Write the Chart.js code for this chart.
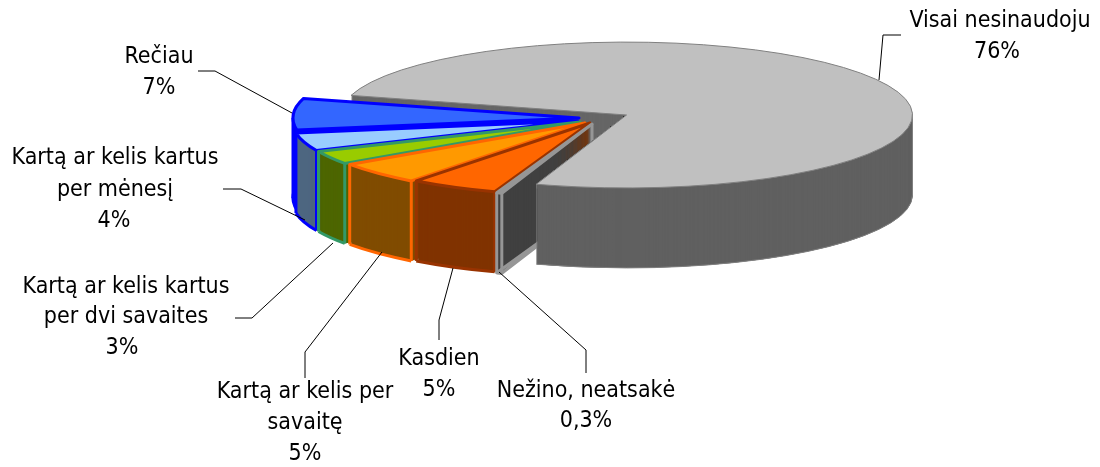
<!DOCTYPE html>
<html lang="lt">
<head>
<meta charset="utf-8">
<title>Pie</title>
<script src="https://cdn.jsdelivr.net/npm/chart.js@4"></script>
<style>
    html, body { margin: 0; padding: 0; background: #fff; }
    canvas { display: block; }
</style>
</head>
<body>
<canvas id="pieChart" width="1100" height="467"></canvas>
<script>
// Data
const categories = ['Visai nesinaudoju', 'Nežino, neatsakė', 'Kasdien', 'Kartą ar kelis per savaitę', 'Kartą ar kelis kartus per dvi savaites', 'Kartą ar kelis kartus per mėnesį', 'Rečiau'];
const values = [76, 0.3, 5, 5, 3, 4, 7];
const percentLabels = ['76%', '0,3%', '5%', '5%', '3%', '4%', '7%'];
const labelLines = [
    ['Visai nesinaudoju'],
    ['Nežino, neatsakė'],
    ['Kasdien'],
    ['Kartą ar kelis per', 'savaitę'],
    ['Kartą ar kelis kartus', 'per dvi savaites'],
    ['Kartą ar kelis kartus', 'per mėnesį'],
    ['Rečiau']
];

// Colours
const topColors = ['#c0c0c0', '#969696', '#ff6600', '#ff9900', '#99cc00', '#99ccff', '#3366ff'];
const borderColors = ['#808080', '#969696', '#993300', '#ff6600', '#339966', '#0000ff', '#0000ff'];
const sideColors = ['#606060', '#404040', '#803300', '#804c00', '#4d6600', '#4d6680', '#0000f0'];
const borderWidths = [1, 3, 3, 3, 3, 3, 3];

// Where each wedge tip sits on the page (exploded slices)
const sliceTips = [[626.5, 115], [592, 124], [590, 123], [585, 123], [580, 122], [578, 121], [579, 118]];
const squash = 0.255;
const depth = 80;
const radius = 286;
const NEZINO = 1;

// Label anchors: x centre, y of each line, leader line
const labelBoxes = [
    { x: [1000, 997], y: [21, 52], leader: [[879, 80], [883, 35], [901, 35]] },
    { x: [586, 586], y: [391, 421], leader: [[499, 272], [586, 350], [586, 373]] },
    { x: [439, 439], y: [359, 390], leader: [[453, 268], [439, 320], [439, 340]] },
    { x: [305, 305, 305], y: [392, 423, 454], leader: [[382, 252], [305, 352], [305, 378]] },
    { x: [126, 126, 122], y: [287, 317, 348], leader: [[333, 243], [252, 318], [235, 318]] },
    { x: [115, 115, 114], y: [158, 190, 221], leader: [[305, 220], [241, 189], [223, 189]] },
    { x: [159, 159], y: [57, 88], leader: [[292, 113], [215, 71], [198, 71]] }
];

// Draw one arc through the library with a flattened context
function drawArcAt(ctx, el, i, dy, fill) {
    const saved = el.options;
    el.options = Object.assign({}, saved, { backgroundColor: fill, borderWidth: 0 });
    ctx.save();
    ctx.translate(sliceTips[i][0], sliceTips[i][1] + dy);
    ctx.scale(1, squash);
    ctx.translate(-el.x, -el.y);
    el.draw(ctx);
    ctx.restore();
    el.options = saved;
}

function extrude(ctx, el, i) {
    for (let d = depth; d >= 1; d--) {
        drawArcAt(ctx, el, i, d, sideColors[i]);
    }
}

// Outline of a wedge, stroked in page pixels so the width stays even
function wedgePath(ctx, el, i, dy) {
    const [cx, cy] = sliceTips[i];
    const r = el.outerRadius;
    ctx.beginPath();
    ctx.moveTo(cx, cy + dy);
    ctx.ellipse(cx, cy + dy, r, r * squash, 0, el.startAngle, el.endAngle);
    ctx.closePath();
}

function setPen(ctx, i) {
    ctx.strokeStyle = borderColors[i];
    ctx.lineWidth = borderWidths[i];
    ctx.lineJoin = 'round';
}

function strokeSide(ctx, el, i) {
    const [cx, cy] = sliceTips[i];
    const r = el.outerRadius;
    setPen(ctx, i);
    // only the front half of the lower rim can be seen
    const full = 2 * Math.PI;
    const from = (el.startAngle < full && el.endAngle > full) ? full : el.startAngle;
    ctx.beginPath();
    ctx.ellipse(cx, cy + depth, r, r * squash, 0, from, el.endAngle);
    ctx.stroke();
    const edges = [el.startAngle, el.endAngle];
    [0, Math.PI, 2 * Math.PI, 3 * Math.PI].forEach(a => {
        if (a > el.startAngle && a < el.endAngle) edges.push(a);
    });
    edges.forEach(a => {
        const x = cx + Math.cos(a) * r;
        const y = cy + Math.sin(a) * r * squash;
        ctx.beginPath();
        ctx.moveTo(x, y);
        ctx.lineTo(x, y + depth);
        ctx.stroke();
    });
}

function drawTop(ctx, el, i) {
    drawArcAt(ctx, el, i, 0, topColors[i]);
    setPen(ctx, i);
    wedgePath(ctx, el, i, 0);
    ctx.stroke();
}

const pie3d = {
    id: 'pie3d',
    beforeDatasetsDraw(chart) {
        const ctx = chart.ctx;
        const arcs = chart.getDatasetMeta(0).data;
        const gray = arcs[0];

        // Inner wall of the big slice goes behind everything
        ctx.save();
        sideColors[0] = '#666666';
        extrude(ctx, gray, 0);
        sideColors[0] = '#606060';
        ctx.restore();

        // Small slices, back to front
        for (let i = arcs.length - 1; i >= 1; i--) {
            extrude(ctx, arcs[i], i);
            if (i === NEZINO) {
                setPen(ctx, i);
                wedgePath(ctx, arcs[i], i, depth);
                ctx.stroke();
                ctx.beginPath();
                ctx.moveTo(sliceTips[i][0], sliceTips[i][1]);
                ctx.lineTo(sliceTips[i][0], sliceTips[i][1] + depth);
                ctx.stroke();
            }
            strokeSide(ctx, arcs[i], i);
            drawTop(ctx, arcs[i], i);
        }

        // Outer side of the big slice covers the wall of the thin one
        const [gx, gy] = sliceTips[0];
        const ex = gx + Math.cos(gray.endAngle) * gray.outerRadius;
        const ey = gy + Math.sin(gray.endAngle) * gray.outerRadius * squash;
        ctx.save();
        ctx.beginPath();
        ctx.moveTo(ex, ey);
        ctx.lineTo(gx, gy);
        ctx.lineTo(chart.width, gy);
        ctx.lineTo(chart.width, chart.height);
        ctx.lineTo(ex, chart.height);
        ctx.closePath();
        ctx.clip();
        extrude(ctx, gray, 0);
        strokeSide(ctx, gray, 0);
        ctx.restore();
        drawTop(ctx, gray, 0);

        return false;
    },
    afterDraw(chart) {
        const ctx = chart.ctx;
        ctx.save();
        ctx.fillStyle = '#000';
        ctx.strokeStyle = '#000';
        ctx.lineWidth = 1;
        ctx.font = '23px "DejaVu Sans Condensed", "DejaVu Sans"';
        ctx.textAlign = 'center';
        ctx.textBaseline = 'middle';
        labelBoxes.forEach((box, i) => {
            ctx.beginPath();
            box.leader.forEach((p, k) => {
                if (k === 0) ctx.moveTo(p[0], p[1]);
                else ctx.lineTo(p[0], p[1]);
            });
            ctx.stroke();
            labelLines[i].concat(percentLabels[i]).forEach((line, k) => {
                ctx.fillText(line, box.x[k], box.y[k]);
            });
        });
        ctx.restore();
    }
};

new Chart(document.getElementById('pieChart').getContext('2d'), {
    type: 'pie',
    data: {
        labels: categories,
        datasets: [{
            data: values,
            backgroundColor: topColors,
            borderWidth: 0,
            radius: radius
        }]
    },
    options: {
        responsive: false,
        animation: false,
        rotation: 285.6,
        plugins: {
            legend: { display: false },
            tooltip: { enabled: false }
        }
    },
    plugins: [pie3d]
});
</script>
</body>
</html>
